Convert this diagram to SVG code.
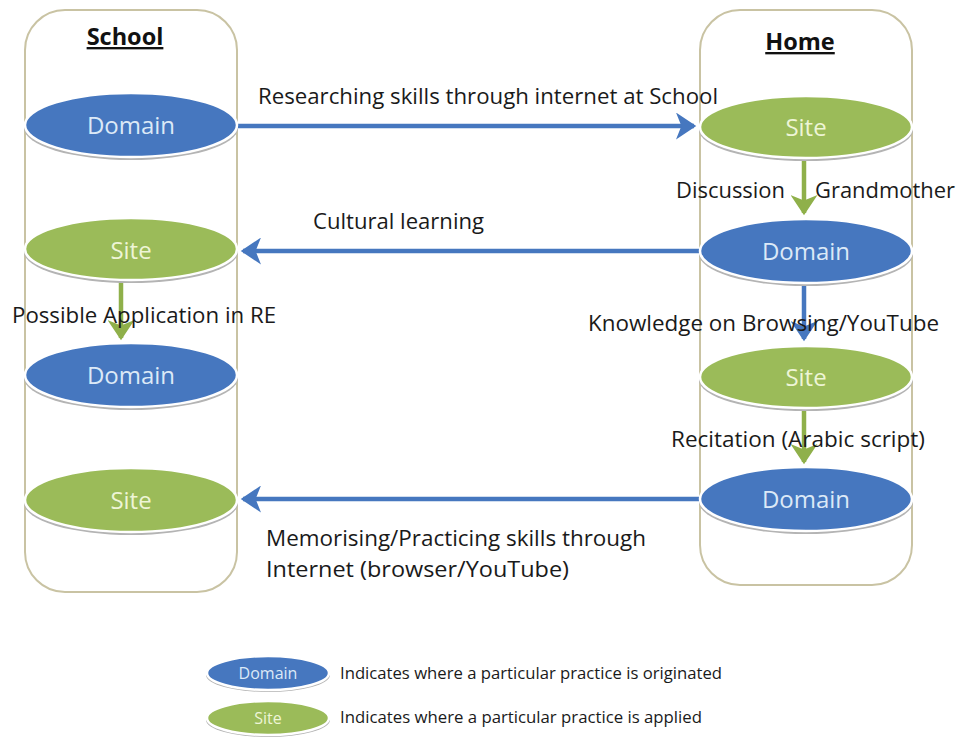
<svg xmlns="http://www.w3.org/2000/svg" width="960" height="740" viewBox="0 0 960 740">
<defs>
<style>
.lane{fill:#fff;stroke:#c9c3a3;stroke-width:2}
.sh{fill:#b4b4b4}
.dom{fill:#4677bf;stroke:#fff;stroke-width:2.5}
.site{fill:#9bbb59;stroke:#fff;stroke-width:2.5}
.dt{font-family:"Open Sans","Liberation Sans",sans-serif;font-size:24px;fill:#dce9f7;text-anchor:middle}
.st{font-family:"Open Sans","Liberation Sans",sans-serif;font-size:24px;fill:#eef5d6;text-anchor:middle}
.lbl{font-family:"Open Sans","Liberation Sans",sans-serif;font-size:21.5px;fill:#1a1a1a}
.hd{font-family:"Open Sans","Liberation Sans",sans-serif;font-size:23.5px;font-weight:bold;fill:#111;text-anchor:middle;text-decoration:underline}
.lg{font-family:"Open Sans","Liberation Sans",sans-serif;font-size:16.5px;fill:#1a1a1a}
.ldt{font-family:"Open Sans","Liberation Sans",sans-serif;font-size:16px;fill:#dce9f7;text-anchor:middle}
.lst{font-family:"Open Sans","Liberation Sans",sans-serif;font-size:16px;fill:#eef5d6;text-anchor:middle}
.ab{stroke:#4677bf;stroke-width:4.5;fill:none}
.ag{stroke:#8fb04a;stroke-width:4.5;fill:none}
</style>
<marker id="mb" markerWidth="6" markerHeight="6" refX="4" refY="3" orient="auto" markerUnits="strokeWidth">
<path d="M0,0 L4.5,3 L0,6 L1.2,3 Z" fill="#4677bf"/>
</marker>
<marker id="mg" markerWidth="6" markerHeight="6" refX="4" refY="3" orient="auto" markerUnits="strokeWidth">
<path d="M0,0 L4.5,3 L0,6 L1.2,3 Z" fill="#8fb04a"/>
</marker>
</defs>
<rect width="960" height="740" fill="#fff"/>
<g id="lane-school"><rect class="lane" x="25" y="10" width="212" height="582" rx="40"/><text class="hd" x="125" y="45">School</text></g>
<g id="lane-home"><rect class="lane" x="700" y="10" width="212" height="575" rx="40"/><text class="hd" x="800" y="50">Home</text></g>

<g id="connectors">
<line class="ab" x1="238" y1="126" x2="694" y2="126" marker-end="url(#mb)"/>
<line class="ab" x1="699" y1="251" x2="243" y2="251" marker-end="url(#mb)"/>
<line class="ab" x1="699" y1="499" x2="243" y2="499" marker-end="url(#mb)"/>
<line class="ag" x1="121" y1="281" x2="121" y2="338" marker-end="url(#mg)"/>
<line class="ag" x1="804" y1="159" x2="804" y2="213" marker-end="url(#mg)"/>
<line class="ab" x1="804" y1="283" x2="804" y2="339" marker-end="url(#mb)"/>
<line class="ag" x1="804" y1="409" x2="804" y2="462" marker-end="url(#mg)"/>
<text class="lbl" x="258" y="104" textLength="460" lengthAdjust="spacingAndGlyphs">Researching skills through internet at School</text>
<text class="lbl" x="313" y="229" textLength="171" lengthAdjust="spacingAndGlyphs">Cultural learning</text>
<text class="lbl" x="676" y="198" textLength="109" lengthAdjust="spacingAndGlyphs">Discussion</text>
<text class="lbl" x="815" y="198" textLength="140" lengthAdjust="spacingAndGlyphs">Grandmother</text>
<text class="lbl" x="12" y="323" textLength="264" lengthAdjust="spacingAndGlyphs">Possible Application in RE</text>
<text class="lbl" x="588" y="331" textLength="351" lengthAdjust="spacingAndGlyphs">Knowledge on Browsing/YouTube</text>
<text class="lbl" x="671" y="447" textLength="254" lengthAdjust="spacingAndGlyphs">Recitation (Arabic script)</text>
<text class="lbl" x="266" y="546" textLength="380" lengthAdjust="spacingAndGlyphs">Memorising/Practicing skills through</text>
<text class="lbl" x="266" y="577" textLength="303" lengthAdjust="spacingAndGlyphs">Internet (browser/YouTube)</text>
</g>

<g id="school-domain-1"><ellipse class="sh" cx="131" cy="128" rx="107" ry="32"/><ellipse class="dom" cx="131" cy="125" rx="106" ry="32"/><text class="dt" x="131" y="134">Domain</text></g>
<g id="school-site-1"><ellipse class="sh" cx="131" cy="252" rx="107" ry="31"/><ellipse class="site" cx="131" cy="249" rx="106" ry="31"/><text class="st" x="131" y="259">Site</text></g>
<g id="school-domain-2"><ellipse class="sh" cx="131" cy="378" rx="107" ry="32"/><ellipse class="dom" cx="131" cy="375" rx="106" ry="32"/><text class="dt" x="131" y="384">Domain</text></g>
<g id="school-site-2"><ellipse class="sh" cx="131" cy="503" rx="107" ry="32"/><ellipse class="site" cx="131" cy="500" rx="106" ry="32"/><text class="st" x="131" y="509">Site</text></g>

<g id="home-site-1"><ellipse class="sh" cx="806" cy="130" rx="107" ry="31"/><ellipse class="site" cx="806" cy="127" rx="106" ry="31"/><text class="st" x="806" y="136">Site</text></g>
<g id="home-domain-1"><ellipse class="sh" cx="806" cy="254" rx="107" ry="32"/><ellipse class="dom" cx="806" cy="251" rx="106" ry="32"/><text class="dt" x="806" y="260">Domain</text></g>
<g id="home-site-2"><ellipse class="sh" cx="806" cy="380" rx="107" ry="31"/><ellipse class="site" cx="806" cy="377" rx="106" ry="31"/><text class="st" x="806" y="386">Site</text></g>
<g id="home-domain-2"><ellipse class="sh" cx="806" cy="502" rx="107" ry="32"/><ellipse class="dom" cx="806" cy="499" rx="106" ry="32"/><text class="dt" x="806" y="508">Domain</text></g>

<g id="legend">
<ellipse class="sh" cx="268" cy="675" rx="62" ry="17"/><ellipse class="dom" cx="268" cy="673" rx="61" ry="17"/><text class="ldt" x="268" y="679">Domain</text>
<ellipse class="sh" cx="268" cy="720" rx="62" ry="17"/><ellipse class="site" cx="268" cy="718" rx="61" ry="17"/><text class="lst" x="268" y="724">Site</text>
<text class="lg" x="340" y="679" textLength="382" lengthAdjust="spacingAndGlyphs">Indicates where a particular practice is originated</text>
<text class="lg" x="340" y="723" textLength="362" lengthAdjust="spacingAndGlyphs">Indicates where a particular practice is applied</text>
</g>
</svg>
